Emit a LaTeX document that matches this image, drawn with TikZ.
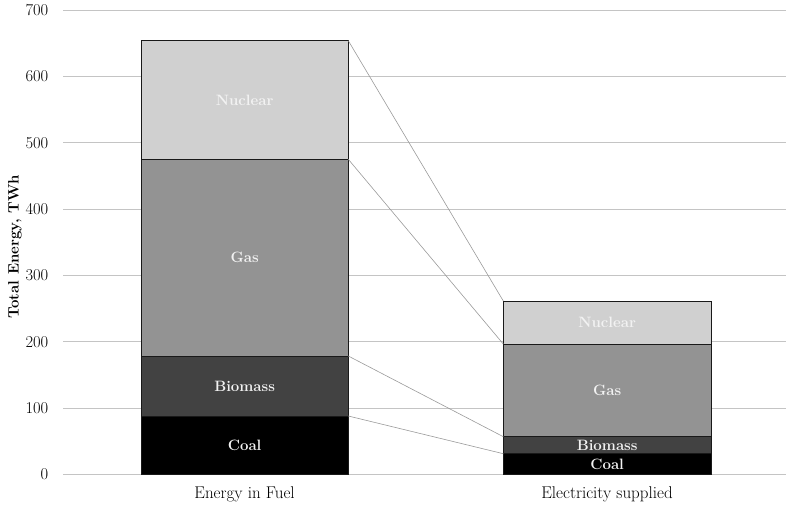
\documentclass[tikz,border=0pt]{standalone}
\usepackage{fontspec}
\definecolor{nuc}{HTML}{D0D0D0}
\definecolor{gasc}{HTML}{939393}
\definecolor{bio}{HTML}{424242}
\definecolor{coalc}{HTML}{000000}
\definecolor{gridc}{HTML}{C4C4C4}
\definecolor{connc}{HTML}{9A9A9A}
\definecolor{labc}{HTML}{F2F2F2}
\tikzset{
  seg/.style={draw=black!90, line width=0.9pt, inner sep=0pt, outer sep=0pt, anchor=north west,
    text=labc, font=\fontsize{15}{17}\selectfont\bfseries},
  gridline/.style={draw=gridc, line width=0.9pt},
  conn/.style={draw=connc, line width=0.6pt},
  ticklab/.style={anchor=east, inner sep=0pt, font=\fontsize{16.5}{19}\selectfont},
  catlab/.style={inner sep=0pt, font=\fontsize{17}{20}\selectfont},
  axtitle/.style={inner sep=0pt, rotate=90, font=\fontsize{15}{18}\selectfont\bfseries}
}
\begin{document}
\begin{tikzpicture}[x=1pt,y=-1pt]
\useasboundingbox (0,0) rectangle (786,506);
% gridlines and tick labels
\foreach \v in {0,100,...,700}{
  \coordinate (gl\v) at (63,{474.3-0.6629*\v});
  \coordinate (gr\v) at (786,{474.3-0.6629*\v});
  \draw[gridline] (gl\v) -- (gr\v);
  \node[ticklab] (t\v) at (48.5,{474.3-0.6629*\v}) {\v};
}
% left bar
\node[seg, fill=nuc,   minimum width=207.3pt, minimum height=118.6pt] (LN) at (141,40.7) {Nuclear};
\node[seg, fill=gasc,  minimum width=207.3pt, minimum height=196.7pt] (LG) at (141,159.3) {Gas};
\node[seg, fill=bio,   minimum width=207.3pt, minimum height=60pt]    (LB) at (141,356) {Biomass};
\node[seg, fill=coalc, minimum width=207.3pt, minimum height=58.3pt]  (LC) at (141,416) {Coal};
% right bar
\node[seg, fill=nuc,   minimum width=207.7pt, minimum height=43pt]    (RN) at (503.3,301) {Nuclear};
\node[seg, fill=gasc,  minimum width=207.7pt, minimum height=92.7pt]  (RG) at (503.3,344) {Gas};
\node[seg, fill=bio,   minimum width=207.7pt, minimum height=17pt]    (RB) at (503.3,436.7) {Biomass};
\node[seg, fill=coalc, minimum width=207.7pt, minimum height=20.6pt]  (RC) at (503.3,453.7) {Coal};
% connectors
\draw[conn] (LN.north east) -- (RN.north west);
\draw[conn] (LG.north east) -- (RG.north west);
\draw[conn] (LB.north east) -- (RB.north west);
\draw[conn] (LC.north east) -- (RC.north west);
% labels
\node[catlab] (cat1) at (244.5,494) {Energy in Fuel};
\node[catlab] (cat2) at (607,494) {Electricity supplied};
\node[axtitle] (ytitle) at (15,247) {Total Energy, TWh};
\end{tikzpicture}
\end{document}
